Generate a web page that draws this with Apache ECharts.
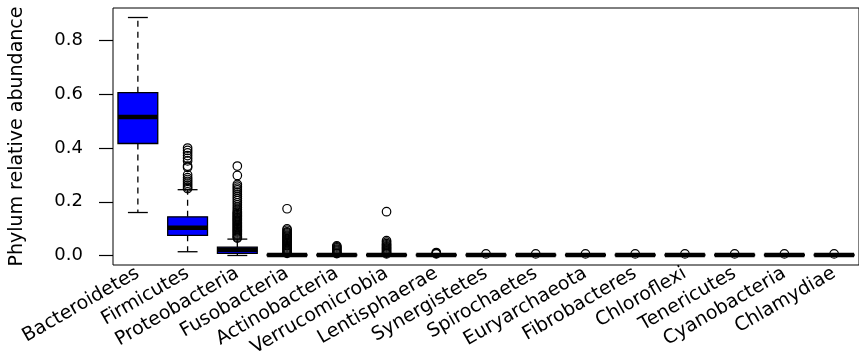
<!DOCTYPE html>
<html lang="en">
<head>
<meta charset="UTF-8">
<title>Phylum relative abundance</title>
<script src="https://cdn.jsdelivr.net/npm/echarts@6/dist/echarts.min.js"></script>
<style>
  html, body { margin: 0; padding: 0; background: #fff; }
  #main { width: 859px; height: 363px; }
</style>
</head>
<body>
<div id="main"></div>
<script type="text/javascript">
// phyla, in plot order
var phyla = ['Bacteroidetes', 'Firmicutes', 'Proteobacteria', 'Fusobacteria', 'Actinobacteria',
  'Verrucomicrobia', 'Lentisphaerae', 'Synergistetes', 'Spirochaetes', 'Euryarchaeota',
  'Fibrobacteres', 'Chloroflexi', 'Tenericutes', 'Cyanobacteria', 'Chlamydiae'];

// box statistics
var whiskerLow  = [0.160, 0.014, 0.000, 0, 0, 0, 0, 0, 0, 0, 0, 0, 0, 0, 0];
var quart1      = [0.417, 0.075, 0.008, 0, 0, 0, 0, 0, 0, 0, 0, 0, 0, 0, 0];
var medians     = [0.516, 0.103, 0.021, 0.002, 0.002, 0.002, 0.002, 0.002, 0.002, 0.002, 0.002, 0.002, 0.002, 0.002, 0.002];
var quart3      = [0.606, 0.144, 0.031, 0.004, 0.004, 0.004, 0.004, 0.004, 0.004, 0.004, 0.004, 0.004, 0.004, 0.004, 0.004];
var whiskerHigh = [0.886, 0.245, 0.061, 0.006, 0.005, 0.005, 0.004, 0.004, 0.004, 0.004, 0.004, 0.004, 0.004, 0.004, 0.004];

// outliers per phylum
var outliers = [
  [],
  [0.400, 0.391, 0.382, 0.372, 0.362, 0.352, 0.333, 0.328, 0.300, 0.290, 0.283, 0.276, 0.269,
   0.262, 0.255, 0.249],
  [0.333, 0.298, 0.265, 0.258, 0.251, 0.244, 0.236, 0.228, 0.220, 0.212, 0.204, 0.196, 0.188,
   0.180, 0.172, 0.165, 0.160, 0.156, 0.152, 0.148, 0.144, 0.140, 0.136, 0.132, 0.128, 0.124,
   0.120, 0.116, 0.112, 0.108, 0.104, 0.100, 0.096, 0.092, 0.088, 0.084, 0.080, 0.076, 0.072,
   0.068, 0.065],
  [0.174, 0.099, 0.094, 0.088, 0.084, 0.080, 0.076, 0.072, 0.068, 0.064, 0.060, 0.056, 0.052,
   0.048, 0.044, 0.040, 0.036, 0.032, 0.028, 0.024, 0.020, 0.016, 0.012, 0.008],
  [0.036, 0.032, 0.028, 0.024, 0.020, 0.016, 0.012, 0.009, 0.007],
  [0.163, 0.055, 0.050, 0.044, 0.040, 0.036, 0.032, 0.028, 0.024, 0.020, 0.016, 0.012, 0.009, 0.006],
  [0.011, 0.008, 0.006],
  [0.006], [0.006], [0.006], [0.006], [0.006], [0.006], [0.006], [0.006]
];

var yTicks = [0, 0.2, 0.4, 0.6, 0.8];

var boxData = phyla.map(function (p, i) {
  return [i, whiskerLow[i], quart1[i], medians[i], quart3[i], whiskerHigh[i]];
});
var outlierData = [];
outliers.forEach(function (list, i) {
  list.forEach(function (v) { outlierData.push([i, v]); });
});

function renderBox(params, api) {
  var x = api.value(0);
  var lo = api.coord([x, api.value(1)]);
  var b1 = api.coord([x, api.value(2)]);
  var md = api.coord([x, api.value(3)]);
  var b3 = api.coord([x, api.value(4)]);
  var hi = api.coord([x, api.value(5)]);
  var band = api.size([1, 0])[0];
  var bw = band * 0.8, cw = band * 0.4;
  var cx = lo[0];
  var dashed = { stroke: '#000', lineWidth: 1.3, lineDash: [6, 5] };
  var solid = { stroke: '#000', lineWidth: 1.3 };
  return {
    type: 'group',
    children: [
      { type: 'line', shape: { x1: cx, y1: b3[1], x2: cx, y2: hi[1] }, style: dashed },
      { type: 'line', shape: { x1: cx, y1: b1[1], x2: cx, y2: lo[1] }, style: dashed },
      { type: 'line', shape: { x1: cx - cw / 2, y1: hi[1], x2: cx + cw / 2, y2: hi[1] }, style: solid },
      { type: 'line', shape: { x1: cx - cw / 2, y1: lo[1], x2: cx + cw / 2, y2: lo[1] }, style: solid },
      { type: 'rect', shape: { x: cx - bw / 2, y: b3[1], width: bw, height: b1[1] - b3[1] },
        style: { fill: '#0000ff', stroke: '#000', lineWidth: 1.3 } },
      { type: 'line', shape: { x1: cx - bw / 2, y1: md[1], x2: cx + bw / 2, y2: md[1] },
        style: { stroke: '#000', lineWidth: 4.5 } }
    ]
  };
}

var chart = echarts.init(document.getElementById('main'));
var font = 'DejaVu Sans';
chart.setOption({
  animation: false,
  grid: { left: 112, top: 8, width: 748, height: 257, show: true, borderColor: '#000', borderWidth: 1 },
  xAxis: {
    type: 'category',
    data: phyla,
    boundaryGap: true,
    axisLine: { show: false },
    axisTick: { show: false },
    axisLabel: { interval: 0, rotate: 30, margin: 7, color: '#000', fontFamily: font, fontSize: 19 }
  },
  yAxis: {
    type: 'value',
    min: -0.0354,
    max: 0.9214,
    name: 'Phylum relative abundance',
    nameLocation: 'middle',
    nameGap: 86,
    nameTextStyle: { color: '#000', fontFamily: font, fontSize: 19 },
    splitLine: { show: false },
    axisLine: { show: false },
    axisTick: { show: true, length: 14, customValues: yTicks, lineStyle: { color: '#000', width: 1.2 } },
    axisLabel: {
      customValues: yTicks, margin: 30, color: '#000', fontFamily: font, fontSize: 18,
      formatter: function (v) { return v.toFixed(1); }
    }
  },
  series: [
    { type: 'custom', renderItem: renderBox, data: boxData, encode: { x: 0, y: [1, 2, 3, 4, 5] }, z: 2 },
    {
      type: 'scatter', data: outlierData, symbol: 'circle', symbolSize: 8.5, z: 3,
      itemStyle: { color: 'rgba(0,0,0,0)', borderColor: '#000', borderWidth: 1.2, opacity: 1 }
    }
  ]
});
</script>
</body>
</html>
